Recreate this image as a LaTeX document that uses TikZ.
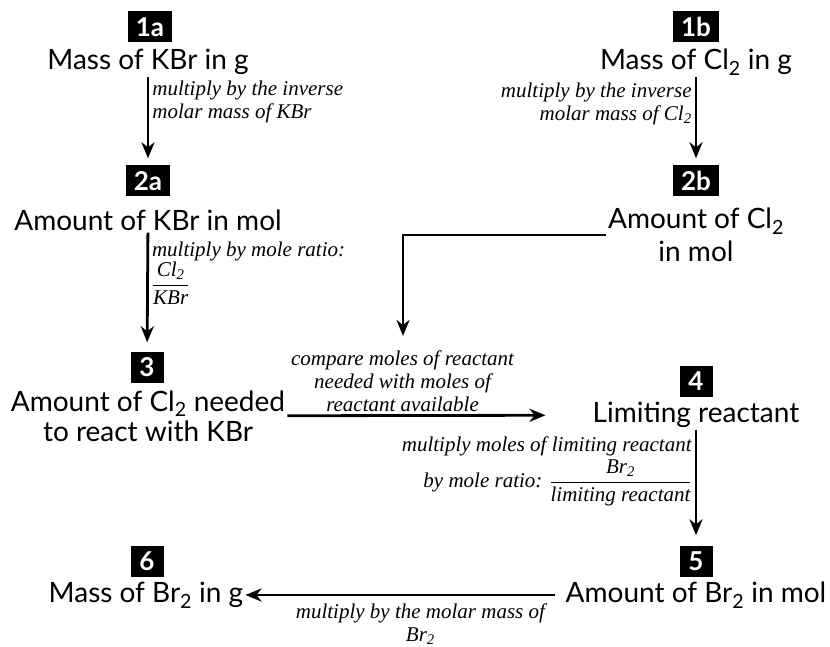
\documentclass[tikz,border=0pt]{standalone}
\usepackage{amsmath}
\usepackage{fontspec}
\setmainfont{Liberation Serif}
\newfontfamily\labelfont{Lato}
\usepackage{tikz}
\usetikzlibrary{arrows.meta,positioning}

\newcommand{\molfrac}[2]{$\genfrac{}{}{0.7pt}{0}{\hbox{#1}}{\hbox{#2}}$}

\tikzset{
	stepno/.style={fill=black, text=white, font=\labelfont\bfseries\fontsize{26}{26}\selectfont,
		minimum height=31pt, minimum width=33pt, inner xsep=8pt, inner ysep=0pt},
	qty/.style={font=\labelfont\fontsize{28}{33}\selectfont, align=center, inner sep=2pt},
	note/.style={font=\itshape\fontsize{21}{23}\selectfont, inner sep=3pt},
	conv/.style={-{Stealth[length=16pt,width=13pt,inset=5pt]}, line width=2.8pt}
}

\begin{document}
\begin{tikzpicture}[x=1pt, y=-1pt]
\useasboundingbox (0,0) rectangle (830,647);

% quantities
\node[stepno] (b1a) at (150,27) {1a};
\node[qty] (m1a) at (148,62) {Mass of KBr in g};
\node[stepno] (b1b) at (696,27) {1b};
\node[qty] (m1b) at (696,62) {Mass of Cl\textsubscript{2} in g};
\node[stepno] (b2a) at (148,181) {2a};
\node[qty] (m2a) at (148,220) {Amount of KBr in mol};
\node[stepno] (b2b) at (696,181) {2b};
\node[qty] (m2b) at (696,235) {Amount of Cl\textsubscript{2}\\in mol};
\node[stepno] (b3) at (147,367) {3};
\node[qty, font=\labelfont\fontsize{28}{30}\selectfont] (m3) at (148,416) {Amount of Cl\textsubscript{2} needed\\to react with KBr};
\node[stepno] (b4) at (696,381) {4};
\node[qty] (m4) at (696,415) {Limiting reactant};
\node[stepno] (b5) at (696,561) {5};
\node[qty] (m5) at (696,595) {Amount of Br\textsubscript{2} in mol};
\node[stepno] (b6) at (147,561) {6};
\node[qty] (m6) at (146,595) {Mass of Br\textsubscript{2} in g};
\coordinate (cmp) at (403,336);

% conversions
\path[conv]
(m1a) edge[shorten >=7pt] node[note, right, pos=0.28, align=left] (t1a) {multiply by the inverse\\molar mass of KBr} (b2a)
(m1b) edge[shorten >=7pt] node[note, left, pos=0.3, align=right] (t1b) {multiply by the inverse\\molar mass of \textit{Cl}\textsubscript{2}} (b2b)
(m2a) edge[shorten >=9pt] node[note, right, pos=0.34, align=left] (t2a) {multiply by mole ratio:\\\molfrac{Cl\textsubscript{2}}{KBr}} (b3)
(m3) edge[shorten >=45pt] node[note, above, pos=0.38, align=center, inner sep=2pt] (t3) {compare moles of reactant\\needed with moles of\\reactant available} (m4)
(m4) edge[shorten >=10pt] node[note, left, pos=0.36, align=right] (t4) {multiply moles of limiting reactant\\[2pt]by mole ratio: \molfrac{Br\textsubscript{2}}{limiting reactant}} (b5)
(m5) edge[shorten <=8pt] node[note, below, pos=0.45, align=center, inner sep=7pt] (t5) {multiply by the molar mass of\\Br\textsubscript{2}} (m6)
;
\draw[conv] (m2b.west) -| (cmp);
\end{tikzpicture}
\end{document}
